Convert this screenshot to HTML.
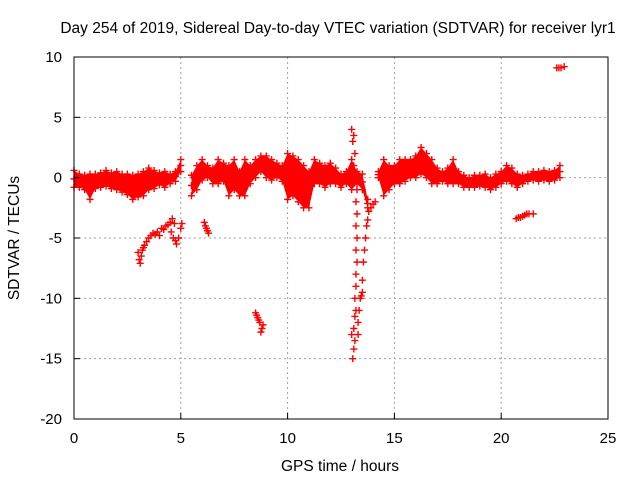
<!DOCTYPE html>
<html><head><meta charset="utf-8"><style>
body{margin:0;background:#fff;}
svg{display:block;font-family:"Liberation Sans",sans-serif;}
</style></head><body>
<svg id="chart" width="640" height="480">
<text x="338" y="33" font-size="15.5" text-anchor="middle">Day 254 of 2019, Sidereal Day-to-day VTEC variation (SDTVAR) for receiver lyr1</text>
<text x="340" y="471" font-size="15.5" text-anchor="middle">GPS time / hours</text>
<text transform="translate(19,238) rotate(-90)" font-size="15.5" text-anchor="middle">SDTVAR / TECUs</text>
<g id="grid"></g><g id="marks"></g><g id="axes"></g>
</svg>
<script>
const xTicks=[0,5,10,15,20,25];
const yTicks=[10,5,0,-5,-10,-15,-20];
const bandT=[0,0.25,0.5,0.75,1,1.25,1.5,1.75,2,2.25,2.5,2.75,3,3.25,3.5,3.75,4,4.25,4.5,4.75,5,5.25,5.5,5.75,6,6.25,6.5,6.75,7,7.25,7.5,7.75,8,8.25,8.5,8.75,9,9.25,9.5,9.75,10,10.25,10.5,10.75,11,11.25,11.5,11.75,12,12.25,12.5,12.75,13,13.25,13.5,13.75,14,14.25,14.5,14.75,15,15.25,15.5,15.75,16,16.25,16.5,16.75,17,17.25,17.5,17.75,18,18.25,18.5,18.75,19,19.25,19.5,19.75,20,20.25,20.5,20.75,21,21.25,21.5,21.75,22,22.25,22.5,22.75];
const bandHi=[0.6,0.3,0.2,0.3,0.3,0.4,0.6,0.4,0.5,0.3,0.3,0.2,0.3,0.5,0.8,0.6,0.4,0.5,0.3,0.5,1.5,null,0.2,1.0,1.5,1.0,0.8,1.5,1.2,1.0,1.5,0.5,1.5,1.0,1.5,1.8,1.8,1.5,1.2,1.0,2.0,1.8,1.5,1.0,0.5,1.5,1.2,1.0,1.2,0.8,0.3,0.5,1.5,0.5,0.3,-1.8,null,0.5,1.5,1.0,1.0,1.5,1.5,1.5,1.8,2.5,2.0,1.5,0.8,0.5,0.8,1.5,0.5,0.2,0.0,0.2,0.2,0.3,0.0,0.3,0.5,1.0,0.8,0.3,0.2,0.3,0.5,0.5,0.6,0.5,0.6,1.0];
const bandLo=[-0.8,-0.8,-1.0,-1.8,-0.9,-0.8,-0.7,-0.9,-1.0,-1.2,-1.4,-1.8,-1.6,-1.5,-1.0,-0.9,-0.6,-0.8,-0.5,-0.3,0.5,null,-1.5,-1.0,-0.2,0.0,-0.5,-0.5,-0.3,-1.5,-1.0,-1.5,-1.5,-0.5,0.0,0.5,0.0,-0.2,0.0,-0.3,-1.8,-1.5,-2.0,-2.5,-2.5,-0.5,-0.5,-0.8,-0.5,-0.5,-0.8,-0.5,-1.0,-0.5,-1.0,-2.5,null,0.0,-1.5,-1.0,-0.5,-0.5,-0.3,0.0,0.0,0.3,0.0,-0.5,-0.5,-0.3,-0.5,-0.5,-0.5,-0.8,-0.8,-0.8,-0.7,-0.8,-1.0,-0.8,-0.5,-0.3,-0.5,-0.8,-0.5,-0.3,-0.2,-0.3,-0.2,-0.3,-0.2,0.0];
const scatterT=[3.0,3.05,3.1,3.15,3.2,3.25,3.3,3.4,3.5,3.6,3.7,3.8,3.9,4.0,4.1,4.2,4.3,4.4,4.5,4.6,4.7,4.55,4.65,4.75,4.8,4.9,5.0,5.05,6.1,6.15,6.2,6.3,6.25,8.5,8.55,8.6,8.65,8.7,8.8,8.75,8.85,13.0,13.05,13.1,13.15,13.1,13.15,13.2,13.15,13.2,13.2,13.25,13.2,13.25,13.2,13.25,13.2,13.25,13.2,13.1,13.15,13.05,13.0,13.1,13.3,13.3,13.35,13.4,13.45,13.5,13.5,13.55,13.6,13.65,13.7,13.75,13.8,13.9,14.0,14.1,20.7,20.8,20.9,21.0,21.1,21.2,21.3,21.5,22.6,22.7,22.8,22.95];
const scatterV=[-6.2,-6.8,-7.1,-6.5,-6.0,-5.8,-5.6,-5.3,-5.0,-4.8,-4.6,-4.7,-4.5,-4.8,-4.2,-4.3,-4.0,-3.9,-3.7,-3.4,-3.8,-4.5,-5.0,-5.2,-5.5,-5.0,-4.2,-3.8,-3.7,-4.0,-4.2,-4.6,-4.4,-11.2,-11.4,-11.6,-11.8,-12.0,-12.5,-12.8,-12.2,-13,-15,-14.2,-13.5,-12.5,-11.5,-11,-10,-9,-8,-7,-6,-5,-4,-3,-2,-1,0,1,2,3,4,3.5,-13,-12,-11,-10,-9.8,-9.5,-8.5,-7,-6,-5,-4,-3.5,-2.8,-2.5,-2.2,-2.0,-3.4,-3.3,-3.3,-3.2,-3.1,-3.0,-3.0,-3.0,9.1,9.1,9.1,9.2];

const NS='http://www.w3.org/2000/svg';
const L=74,R=608,T=57,B=419;
const xs=t=>L+(t-0)/25*(R-L);
const ys=v=>T+(10-v)/30*(B-T);
function mk(tag,attrs,parent){const e=document.createElementNS(NS,tag);for(const k in attrs)e.setAttribute(k,attrs[k]);parent.appendChild(e);return e;}
const grid=document.getElementById('grid'),marks=document.getElementById('marks'),axes=document.getElementById('axes');
xTicks.forEach(t=>{
  if(t>0&&t<25){const g=mk('line',{x1:xs(t),x2:xs(t),y1:T,y2:B,stroke:'#a0a0a0','stroke-dasharray':'2,3'},grid);
  
  }
  const tk=mk('line',{x1:xs(t),x2:xs(t),y1:B,y2:B-6,stroke:'#000'},axes);
  
  
  const lb=mk('text',{x:xs(t),y:B+24,'font-size':15,'text-anchor':'middle'},axes);lb.textContent=t;
  
  
});
yTicks.forEach(v=>{
  if(v>-20&&v<10){const g=mk('line',{x1:L,x2:R,y1:ys(v),y2:ys(v),stroke:'#a0a0a0','stroke-dasharray':'2,3'},grid);
  
  }
  const tk=mk('line',{x1:L,x2:L+6,y1:ys(v),y2:ys(v),stroke:'#000'},axes);
  
  
  const lb=mk('text',{x:L-12,y:ys(v)+5,'font-size':15,'text-anchor':'end'},axes);lb.textContent=v;
  
  
});
const frame=mk('rect',{x:L,y:T,width:R-L,height:B-T,fill:'none',stroke:'#000'},axes);


function plus(t,v){const x=xs(t),y=ys(v);
  const p=mk('path',{d:`M${x-3.5},${y}H${x+3.5}M${x},${y-3.5}V${y+3.5}`,stroke:'#ff0000','stroke-width':1.4,fill:'none'},marks);
  
  }
let seg=[];
function flush(){if(seg.length>1){const up=seg.map(i=>`${xs(bandT[i])},${ys(bandHi[i])}`),dn=seg.slice().reverse().map(i=>`${xs(bandT[i])},${ys(bandLo[i])}`);
  const pg=mk('polygon',{points:up.concat(dn).join(' '),fill:'#ff0000'},marks);
  
  }seg=[];}
bandT.forEach((t,i)=>{if(bandHi[i]===null){flush();return;}seg.push(i);});flush();
bandT.forEach((t,i)=>{if(bandHi[i]===null)return;plus(t,bandHi[i]);plus(t,bandLo[i]);plus(t,(bandHi[i]+bandLo[i])/2);});
scatterT.forEach((t,i)=>plus(t,scatterV[i]));
</script>
</body></html>
